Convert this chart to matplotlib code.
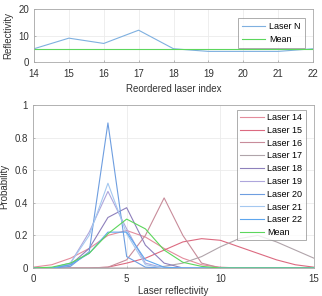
import matplotlib
matplotlib.use("Agg")
import matplotlib.pyplot as plt
import numpy as np

plt.rcParams['font.family'] = ['Liberation Sans', 'DejaVu Sans']
plt.rcParams['font.size'] = 7

# Top panel data
laser_idx = [14, 15, 16, 17, 18, 19, 20, 21, 22]
laser_refl = [5, 9, 7, 12, 5, 4, 4, 4, 5]
mean_refl = [5, 5, 5, 5, 5, 5, 5, 5, 5]

# Bottom panel data
refl_x = list(range(0, 16))
laser_names = ["Laser 14", "Laser 15", "Laser 16", "Laser 17", "Laser 18",
               "Laser 19", "Laser 20", "Laser 21", "Laser 22"]
prob_14 = [0.005, 0.02, 0.06, 0.12, 0.20, 0.23, 0.19, 0.12, 0.06, 0.02, 0.005, 0, 0, 0, 0, 0]
prob_15 = [0, 0, 0, 0, 0.005, 0.03, 0.06, 0.11, 0.16, 0.18, 0.17, 0.13, 0.09, 0.05, 0.02, 0.005]
prob_16 = [0, 0, 0, 0, 0.005, 0.05, 0.20, 0.43, 0.20, 0.03, 0, 0, 0, 0, 0, 0]
prob_17 = [0, 0, 0, 0, 0, 0, 0, 0.01, 0.03, 0.07, 0.13, 0.18, 0.20, 0.16, 0.11, 0.06]
prob_18 = [0, 0, 0.02, 0.12, 0.31, 0.37, 0.14, 0.03, 0, 0, 0, 0, 0, 0, 0, 0]
prob_19 = [0, 0, 0.03, 0.22, 0.47, 0.24, 0.03, 0, 0, 0, 0, 0, 0, 0, 0, 0]
prob_20 = [0, 0, 0.01, 0.10, 0.89, 0.07, 0.005, 0, 0, 0, 0, 0, 0, 0, 0, 0]
prob_21 = [0, 0, 0.03, 0.20, 0.52, 0.21, 0.02, 0, 0, 0, 0, 0, 0, 0, 0, 0]
prob_22 = [0, 0, 0.02, 0.09, 0.22, 0.22, 0.05, 0.005, 0, 0, 0, 0, 0, 0, 0, 0]
prob_mean = [0, 0.005, 0.03, 0.09, 0.21, 0.30, 0.24, 0.11, 0.035, 0.01, 0, 0, 0, 0, 0, 0]

laser_colors = ['#e48c9c', '#dc6a80', '#c88c9a', '#b0a4aa', '#8e80bc',
                '#aea6dc', '#6e9ee0', '#a4c8f0', '#5ea6ee']
mean_color = '#5cd65c'
grid_c = '#ebebeb'
spine_c = '#a8a8a8'

fig = plt.figure(figsize=(3.22, 2.96), dpi=100)

def style(ax):
    for s in ax.spines.values():
        s.set_color(spine_c)
        s.set_linewidth(0.6)
    ax.tick_params(direction='in', length=1.5, width=0.4, color='#888888',
                   labelsize=7, labelcolor='#333333')
    ax.tick_params(axis='x', pad=5)
    ax.tick_params(axis='y', pad=3.5)
    ax.grid(True, color=grid_c, linewidth=0.6)
    ax.set_axisbelow(True)

# Top axes
ax1 = fig.add_axes([34/322, 1 - 62/296, 279/322, 53/296])
ax1.plot(laser_idx, laser_refl, color='#7fb0e0', lw=0.8, label='Laser N')
ax1.plot(laser_idx, mean_refl, color=mean_color, lw=0.8, label='Mean')
ax1.set_xlim(14, 22)
ax1.set_ylim(0, 20)
ax1.set_xticks(laser_idx)
ax1.set_yticks([0, 10, 20])
ax1.set_xlabel('Reordered laser index', fontsize=7, color='#333333', labelpad=4)
ax1.set_ylabel('Reflectivity', fontsize=7, color='#333333', labelpad=4)
style(ax1)
leg1 = ax1.legend(loc='upper right', bbox_to_anchor=(0.97, 0.83), fontsize=6.5,
                  frameon=True, fancybox=False, handlelength=2.6, borderpad=0.45,
                  labelspacing=0.45, handletextpad=0.4, borderaxespad=0)
leg1.get_frame().set_edgecolor('#888888')
leg1.get_frame().set_linewidth(0.6)

# Bottom axes
ax2 = fig.add_axes([33/322, 1 - 268/296, 281/322, 163/296])
probs = [prob_14, prob_15, prob_16, prob_17, prob_18, prob_19, prob_20, prob_21, prob_22]
for name, p, c in zip(laser_names, probs, laser_colors):
    ax2.plot(refl_x, p, color=c, lw=0.8, label=name)
ax2.plot(refl_x, prob_mean, color=mean_color, lw=0.8, label='Mean')
ax2.set_xlim(0, 15)
ax2.set_ylim(0, 1)
ax2.set_xticks([0, 5, 10, 15])
ax2.set_yticks([0, 0.2, 0.4, 0.6, 0.8, 1])
ax2.set_yticklabels(['0', '0.2', '0.4', '0.6', '0.8', '1'])
ax2.set_xlabel('Laser reflectivity', fontsize=7, color='#333333', labelpad=1.5)
ax2.set_ylabel('Probability', fontsize=7, color='#333333', labelpad=4)
style(ax2)
ax2.tick_params(axis='x', pad=4)
leg2 = ax2.legend(loc='upper right', bbox_to_anchor=(0.97, 0.97), fontsize=6.5,
                  frameon=True, fancybox=False, handlelength=2.6, borderpad=0.35,
                  labelspacing=0.42, handletextpad=0.4, borderaxespad=0)
leg2.get_frame().set_edgecolor('#888888')
leg2.get_frame().set_linewidth(0.6)

fig.savefig('out.png', dpi=100)
